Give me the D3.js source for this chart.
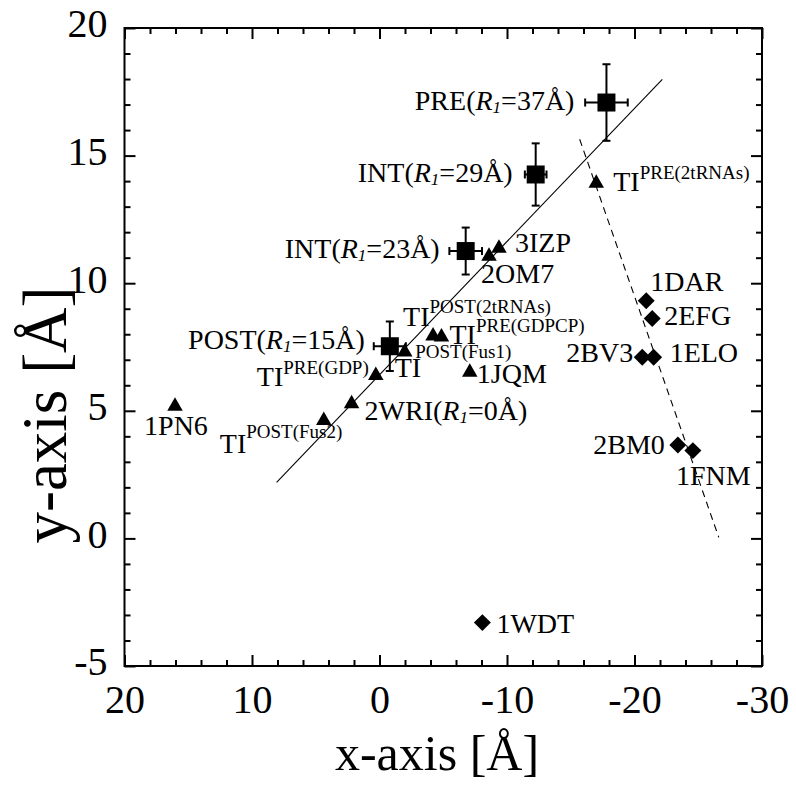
<!DOCTYPE html>
<html><head><meta charset="utf-8">
<script src="https://cdn.jsdelivr.net/npm/d3@7"></script>
<style>
body{margin:0;background:#fff}
svg{display:block}
text{font-family:"Liberation Serif","Times New Roman",serif;fill:#000}
</style>
</head><body>
<svg id="chart" width="796" height="787"></svg>
<script>
// ---------------- DATA ----------------
const xTicks = [20, 10, 0, -10, -20, -30];
const yTicks = [-5, 0, 5, 10, 15, 20];

const squareNames = ["PRE(R1=37Å)", "INT(R1=29Å)", "INT(R1=23Å)", "POST(R1=15Å)"];
const squareX     = [-17.8, -12.25, -6.76, -0.81];
const squareY     = [17.08, 14.26, 11.26, 7.53];
const squareXErr  = [1.67, 0.85, 1.28, 1.26];
const squareYErr  = [1.50, 1.22, 0.92, 0.97];

const triNames = ["3IZP", "2OM7", "TI^PRE(2tRNAs)", "TI^POST(2tRNAs)", "TI^PRE(GDPCP)",
                  "TI^POST(Fus1)", "TI^PRE(GDP)", "1JQM", "2WRI(R1=0Å)", "TI^POST(Fus2)", "1PN6"];
const triX = [-9.37, -8.59, -17.0, -4.20, -4.86, -1.98, 0.29, -7.08, 2.19, 4.37, 16.04];
const triY = [11.46, 11.14, 14.0, 8.02, 7.98, 7.39, 6.47, 6.60, 5.36, 4.71, 5.27];

const diaNames = ["1DAR", "2EFG", "2BV3", "1ELO", "2BM0", "1FNM", "1WDT"];
const diaX = [-20.92, -21.39, -20.61, -21.50, -23.40, -24.58, -8.07];
const diaY = [9.31, 8.62, 7.10, 7.10, 3.66, 3.44, -3.30];

const fitLineX = [8.07, -22.18];
const fitLineY = [2.20, 17.99];
const dashLineX = [-15.70, -26.61];
const dashLineY = [15.64, 0.04];

// ---------------- LAYOUT (pixels, styles) ----------------
const W = 796, H = 787;
const plot = {left: 124.5, right: 762, top: 28, bottom: 666};
const labelLayout = {
  "PRE(R1=37Å)":   {dx: -32, dy: 7, anchor: "end"},
  "INT(R1=29Å)":   {dx: -23, dy: 8, anchor: "end"},
  "INT(R1=23Å)":   {dx: -26, dy: 7, anchor: "end"},
  "POST(R1=15Å)":  {dx: -25, dy: 3, anchor: "end"},
  "3IZP":          {dx: 16, dy: 6},
  "2OM7":          {dx: -8, dy: 29},
  "TI^PRE(2tRNAs)":{dx: 17, dy: 10, supDy: -12},
  "TI^POST(2tRNAs)":{dx: -30, dy: -8, supDy: -13},
  "TI^PRE(GDPCP)": {dx: 8, dy: 9, supDy: -12},
  "TI^POST(Fus1)": {dx: -10, dy: 27, supDx: -6, supDy: -19},
  "TI^PRE(GDP)":   {dx: -119, dy: 13, supDy: -12},
  "1JQM":          {dx: 7, dy: 13},
  "2WRI(R1=0Å)":   {dx: 13, dy: 18},
  "TI^POST(Fus2)": {dx: -104, dy: 35, supDy: -15},
  "1PN6":          {dx: 1, dy: 31, anchor: "middle"},
  "1DAR":          {dx: 4, dy: -10},
  "2EFG":          {dx: 12, dy: 7},
  "2BV3":          {dx: -9, dy: 5, anchor: "end"},
  "1ELO":          {dx: 16, dy: 5},
  "2BM0":          {dx: -13, dy: 9, anchor: "end"},
  "1FNM":          {dx: -17, dy: 34},
  "1WDT":          {dx: 14, dy: 10}
};

const svg = d3.select("#chart");
svg.append("rect").attr("width", W).attr("height", H).attr("fill", "#fff");

const x = d3.scaleLinear().domain([20, -30]).range([plot.left, plot.right]);
const y = d3.scaleLinear().domain([-5, 20]).range([plot.bottom, plot.top]);

const xMinor = d3.range(20, -30.001, -2).filter(v => !xTicks.includes(v));
const yMinor = d3.range(-5, 20.001, 1).filter(v => !yTicks.includes(v));

function styleAxis(g) {
  g.select(".domain").remove();
  g.selectAll(".tick line").attr("stroke", "#000").attr("stroke-width", 2);
  g.selectAll(".tick text").style("font-family", '"Liberation Serif","Times New Roman",serif')
    .style("font-size", "40px").attr("fill", "#000");
}
const fmt = d => String(d);

// bottom
svg.append("g").attr("transform", `translate(0,${plot.bottom})`)
  .call(d3.axisBottom(x).tickValues(xTicks).tickSize(-11).tickPadding(19).tickFormat(fmt)).call(styleAxis);
svg.append("g").attr("transform", `translate(0,${plot.bottom})`)
  .call(d3.axisBottom(x).tickValues(xMinor).tickSize(-6).tickFormat("")).call(styleAxis);
// top
svg.append("g").attr("transform", `translate(0,${plot.top})`)
  .call(d3.axisTop(x).tickValues(xTicks).tickSize(-11).tickFormat("")).call(styleAxis);
svg.append("g").attr("transform", `translate(0,${plot.top})`)
  .call(d3.axisTop(x).tickValues(xMinor).tickSize(-6).tickFormat("")).call(styleAxis);
// left
const gl = svg.append("g").attr("transform", `translate(${plot.left},0)`)
  .call(d3.axisLeft(y).tickValues(yTicks).tickSize(-11).tickPadding(17).tickFormat(fmt)).call(styleAxis);
gl.selectAll(".tick text").attr("dy", "0.22em");
svg.append("g").attr("transform", `translate(${plot.left},0)`)
  .call(d3.axisLeft(y).tickValues(yMinor).tickSize(-6).tickFormat("")).call(styleAxis);
// right
svg.append("g").attr("transform", `translate(${plot.right},0)`)
  .call(d3.axisRight(y).tickValues(yTicks).tickSize(-11).tickFormat("")).call(styleAxis);
svg.append("g").attr("transform", `translate(${plot.right},0)`)
  .call(d3.axisRight(y).tickValues(yMinor).tickSize(-6).tickFormat("")).call(styleAxis);

// frame
svg.append("rect").attr("x", plot.left).attr("y", plot.top)
  .attr("width", plot.right - plot.left).attr("height", plot.bottom - plot.top)
  .attr("fill", "none").attr("stroke", "#000").attr("stroke-width", 2);

// axis titles
svg.append("text").attr("x", 437).attr("y", 770).attr("text-anchor", "middle")
  .style("font-size", "50px").text("x-axis [Å]");
svg.append("text").attr("transform", "translate(66,415) rotate(-90)").attr("text-anchor", "middle")
  .style("font-size", "63px").text("y-axis [Å]");

// lines
const line = d3.line().x(d => x(d[0])).y(d => y(d[1]));
svg.append("path").datum(fitLineX.map((v, i) => [v, fitLineY[i]]))
  .attr("d", line).attr("fill", "none").attr("stroke", "#000").attr("stroke-width", 1.1);
svg.append("path").datum(dashLineX.map((v, i) => [v, dashLineY[i]]))
  .attr("d", line).attr("fill", "none").attr("stroke", "#000").attr("stroke-width", 1.1)
  .attr("stroke-dasharray", "7,5");

// error bars
const squares = squareNames.map((n, i) => ({name: n, x: squareX[i], y: squareY[i], xe: squareXErr[i], ye: squareYErr[i]}));
const eb = svg.append("g").attr("stroke", "#000").attr("stroke-width", 2);
const cap = 4;
squares.forEach(d => {
  const cx = x(d.x), cy = y(d.y);
  const x1 = x(d.x + d.xe), x2 = x(d.x - d.xe), y1 = y(d.y + d.ye), y2 = y(d.y - d.ye);
  eb.append("line").attr("x1", x1).attr("x2", x2).attr("y1", cy).attr("y2", cy);
  eb.append("line").attr("x1", cx).attr("x2", cx).attr("y1", y1).attr("y2", y2);
  eb.append("line").attr("x1", x1).attr("x2", x1).attr("y1", cy - cap).attr("y2", cy + cap);
  eb.append("line").attr("x1", x2).attr("x2", x2).attr("y1", cy - cap).attr("y2", cy + cap);
  eb.append("line").attr("x1", cx - cap).attr("x2", cx + cap).attr("y1", y1).attr("y2", y1);
  eb.append("line").attr("x1", cx - cap).attr("x2", cx + cap).attr("y1", y2).attr("y2", y2);
});

// markers
svg.append("g").selectAll("path").data(squares).join("path")
  .attr("d", d3.symbol(d3.symbolSquare, 18 * 18))
  .attr("transform", d => `translate(${x(d.x)},${y(d.y)})`).attr("fill", "#000");

const tris = triNames.map((n, i) => ({name: n, x: triX[i], y: triY[i]}));
const tw = 15.5, th = 13.5;
svg.append("g").selectAll("path").data(tris).join("path")
  .attr("d", `M0,${-th / 2}L${tw / 2},${th / 2}L${-tw / 2},${th / 2}Z`)
  .attr("transform", d => `translate(${x(d.x)},${y(d.y)})`).attr("fill", "#000");

const dias = diaNames.map((n, i) => ({name: n, x: diaX[i], y: diaY[i]}));
svg.append("g").selectAll("path").data(dias).join("path")
  .attr("d", d3.symbol(d3.symbolSquare, 12 * 12))
  .attr("transform", d => `translate(${x(d.x)},${y(d.y)}) rotate(45)`).attr("fill", "#000");

// labels
const lg = svg.append("g");
function addLabel(d) {
  const lay = labelLayout[d.name] || {dx: 10, dy: 0};
  const t = lg.append("text").attr("x", x(d.x) + lay.dx).attr("y", y(d.y) + lay.dy)
    .attr("text-anchor", lay.anchor || "start").style("font-size", "28px");
  const m = d.name.match(/^(.*)\^(.*)$/);
  if (m) {
    t.append("tspan").text(m[1]);
    t.append("tspan").attr("dx", lay.supDx || 0).attr("dy", lay.supDy || -12)
      .style("font-size", "19px").text(m[2]);
    return;
  }
  const parts = d.name.split("R1");
  if (parts.length === 2) {
    t.append("tspan").text(parts[0]);
    t.append("tspan").style("font-style", "italic").text("R");
    t.append("tspan").attr("dy", 3).style("font-size", "17px").style("font-style", "italic").text("1");
    t.append("tspan").attr("dy", -3).text(parts[1]);
  } else {
    t.text(d.name);
  }
}
squares.forEach(addLabel);
tris.forEach(addLabel);
dias.forEach(addLabel);
</script>
</body></html>
